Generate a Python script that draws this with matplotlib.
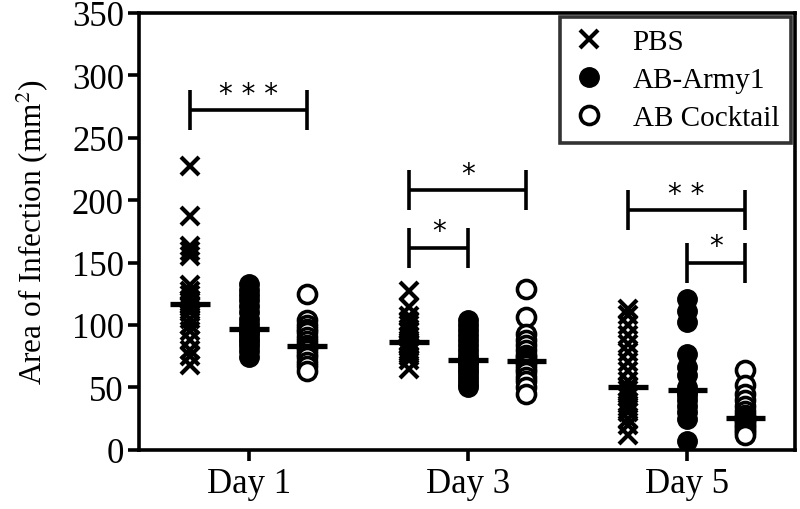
import matplotlib
matplotlib.use("Agg")
import matplotlib.pyplot as plt
import numpy as np

# values (mm^2)
days = ["Day 1", "Day 3", "Day 5"]
groups = ["PBS", "AB-Army1", "AB Cocktail"]

pbs_day1 = [227, 187, 163, 159, 155, 132, 127, 124, 120, 118, 116, 114, 110, 105, 100, 95, 88, 80, 75, 68]
army_day1 = [133, 128, 124, 120, 115, 110, 105, 101, 97, 96, 94, 92, 89, 86, 83, 79, 74]
cock_day1 = [125, 104, 100, 97, 94, 90, 87, 84, 83, 82, 80, 77, 74, 70, 67, 63]

pbs_day3 = [127, 114, 107, 103, 100, 97, 94, 90, 86, 85, 84, 82, 80, 78, 75, 72, 65]
army_day3 = [104, 100, 96, 92, 88, 84, 80, 76, 73, 71, 70, 68, 65, 62, 59, 56, 53, 50]
cock_day3 = [129, 106, 93, 88, 84, 80, 76, 74, 72, 71, 70, 68, 65, 62, 58, 55, 50, 45]

pbs_day5 = [113, 108, 100, 92, 85, 78, 70, 63, 55, 50, 48, 45, 42, 38, 34, 30, 25, 20, 12]
army_day5 = [121, 111, 102, 77, 66, 60, 50, 46, 44, 40, 35, 30, 25, 7]
cock_day5 = [64, 52, 45, 40, 35, 31, 28, 26, 25, 24, 22, 20, 18, 16, 14, 12]

data = {
    "PBS": [pbs_day1, pbs_day3, pbs_day5],
    "AB-Army1": [army_day1, army_day3, army_day5],
    "AB Cocktail": [cock_day1, cock_day3, cock_day5],
}

# significance brackets: (day index, group from, group to, height, label)
brackets = [
    (0, 0, 2, 272, "* * *"),
    (1, 0, 2, 208, "*"),
    (1, 0, 1, 162, "*"),
    (2, 0, 2, 192, "* *"),
    (2, 1, 2, 150, "*"),
]

plt.rcParams["font.family"] = ["Liberation Serif", "DejaVu Serif"]
plt.rcParams["mathtext.fontset"] = "stix"

offsets = [-0.27, 0.0, 0.265]
styles = {
    "PBS": dict(marker="x", markersize=13, markeredgewidth=3, color="black", linestyle="none"),
    "AB-Army1": dict(marker="o", markersize=14, color="black", linestyle="none"),
    "AB Cocktail": dict(marker="o", markersize=13, markerfacecolor="white", markeredgewidth=2.6,
                        markeredgecolor="black", linestyle="none"),
}

fig = plt.figure(figsize=(8, 5.1), dpi=100)
ax = fig.add_axes([0.174, 0.116, 0.820, 0.857])

for gi, g in enumerate(groups):
    for di, vals in enumerate(data[g]):
        x = np.full(len(vals), di + 1 + offsets[gi])
        ax.plot(x, vals, label=g if di == 0 else None, **styles[g], zorder=3)
        med = np.median(vals)
        ax.plot([x[0] - 0.09, x[0] + 0.09], [med, med], color="black", lw=3.8,
                solid_capstyle="butt", zorder=4)

# brackets and stars
for di, g0, g1, h, lab in brackets:
    x0 = di + 1 + offsets[g0]
    x1 = di + 1 + offsets[g1]
    ax.plot([x0, x1], [h, h], color="black", lw=2.6, solid_capstyle="butt")
    ax.plot([x0, x0], [h - 16, h + 16], color="black", lw=2.6, solid_capstyle="butt")
    ax.plot([x1, x1], [h - 16, h + 16], color="black", lw=2.6, solid_capstyle="butt")
    ax.text((x0 + x1) / 2, h + 2, lab, ha="center", va="bottom", fontsize=20,
            family="DejaVu Sans")

ax.set_xlim(0.498, 3.493)
ax.set_ylim(0, 350)
ax.set_xticks([1, 2, 3])
ax.set_xticklabels(days)
ax.set_yticks(np.arange(0, 351, 50))
ax.set_ylabel("Area of Infection (mm$^{2}$)", fontsize=22.5, labelpad=16)

for sp in ax.spines.values():
    sp.set_linewidth(2.6)
ax.tick_params(axis="both", direction="out", length=8, width=2.6, labelsize=25)
ax.tick_params(axis="x", pad=4)
ax.tick_params(axis="y", pad=3)

leg = ax.legend(loc="upper right", bbox_to_anchor=(1.0, 1.0), fontsize=21, frameon=True,
                fancybox=False, edgecolor="black", borderaxespad=0.15, handletextpad=0.9,
                labelspacing=0.4, handlelength=1.2, borderpad=0.4)
leg.get_frame().set_linewidth(2.6)

fig.savefig("out.png", dpi=100)
